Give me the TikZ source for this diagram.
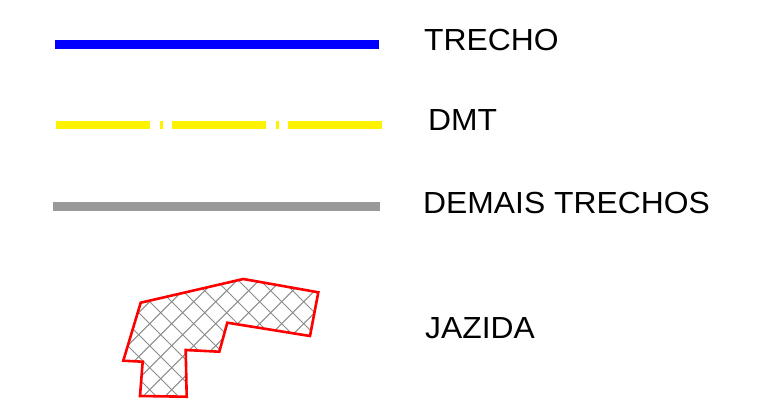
\documentclass[tikz,border=0pt]{standalone}
\usepackage{fontspec}
\setmainfont{Liberation Sans}[FakeStretch=1.044]
\begin{document}
\begin{tikzpicture}[x=1pt,y=-1pt,
  legtext/.style={anchor=base west,inner sep=0pt,font=\fontsize{30.5}{30.5}\selectfont},
  hatchline/.style={draw=black!45,line width=1pt},
  outline/.style={draw=red,line width=2.6pt,line join=miter}]
\useasboundingbox (0,0) rectangle (763,405);
% TRECHO
\coordinate (b1) at (55,44);
\coordinate (b2) at (379,44);
\draw[blue,line width=9pt] (b1) -- (b2);
\node[legtext] (t1) at (424,50.5) {TRECHO};
% DMT
\coordinate (y1) at (56,125);
\coordinate (y2) at (383,125);
\draw[yellow,line width=8pt,dash pattern=on 94pt off 9.5pt on 3pt off 9.5pt] (y1) -- (y2);
\node[legtext] (t2) at (428,130.5) {DMT};
% DEMAIS TRECHOS
\coordinate (g1) at (53,206);
\coordinate (g2) at (380,206);
\draw[black!40,line width=9pt] (g1) -- (g2);
\node[legtext] (t3) at (423,213.5) {DEMAIS TRECHOS};
% JAZIDA
\def\jazpath{(140.7,302.7) -- (243.3,279) -- (318.3,292.3) -- (310,336) -- (227.3,322.7) -- (219.3,351.7) -- (185.7,350) -- (186.7,396.7) -- (140,396) -- (142.7,361.7) -- (123.3,360.7) -- cycle}
\begin{scope}
  \clip \jazpath;
  \foreach \k in {-20,...,20}{
    \pgfmathsetmacro{\c}{473.3+22*\k}
    \pgfmathsetmacro{\d}{-130+22*\k}
    \draw[hatchline] (100,\c-100) -- (340,\c-340);
    \draw[hatchline] (100,100-\d) -- (340,340-\d);
  }
\end{scope}
\draw[outline] \jazpath;
\node[legtext] (t4) at (425,338.5) {JAZIDA};
\end{tikzpicture}
\end{document}
